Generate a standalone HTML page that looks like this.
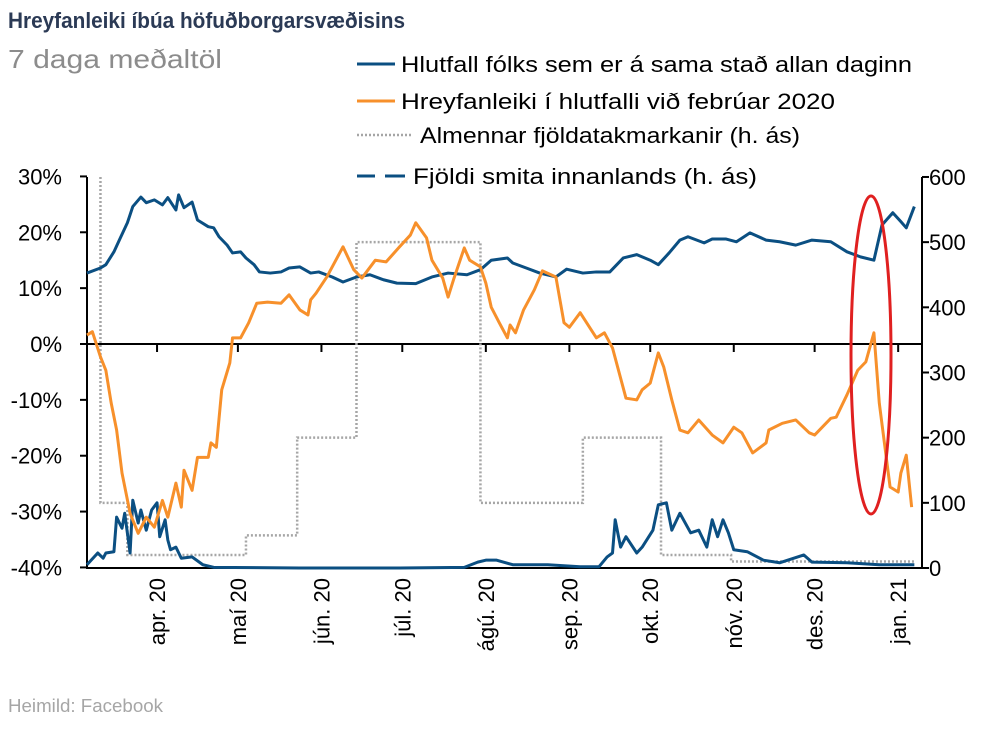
<!DOCTYPE html>
<html><head><meta charset="utf-8"><style>
body{margin:0;background:#fff;}
svg text{font-family:"Liberation Sans",sans-serif;}
</style></head><body>
<svg id="chart" width="1008" height="727" viewBox="0 0 1008 727" xmlns="http://www.w3.org/2000/svg">
<text x="8" y="28" font-size="22" font-weight="bold" fill="#2b3a55" textLength="397" lengthAdjust="spacingAndGlyphs">Hreyfanleiki íbúa höfuðborgarsvæðisins</text>
<text x="8" y="68" font-size="26" fill="#8c8c8c" textLength="214" lengthAdjust="spacingAndGlyphs">7 daga meðaltöl</text>
<g font-size="22" fill="#000">
<line x1="357" y1="64" x2="395" y2="64" stroke="#0b4f82" stroke-width="3"/>
<text x="401" y="72" textLength="511" lengthAdjust="spacingAndGlyphs">Hlutfall fólks sem er á sama stað allan daginn</text>
<line x1="357" y1="101" x2="395" y2="101" stroke="#f7902b" stroke-width="3"/>
<text x="401" y="109" textLength="434" lengthAdjust="spacingAndGlyphs">Hreyfanleiki í hlutfalli við febrúar 2020</text>
<line x1="357" y1="135" x2="412" y2="135" stroke="#a6a6a6" stroke-width="2.5" stroke-dasharray="2,2"/>
<text x="420" y="143" textLength="380" lengthAdjust="spacingAndGlyphs">Almennar fjöldatakmarkanir (h. ás)</text>
<line x1="357" y1="176" x2="375" y2="176" stroke="#0b4f82" stroke-width="3"/>
<line x1="385" y1="176" x2="405" y2="176" stroke="#0b4f82" stroke-width="3"/>
<text x="413" y="184" textLength="344" lengthAdjust="spacingAndGlyphs">Fjöldi smita innanlands (h. ás)</text>
</g>
<g id="axes"></g>
<g id="marks"></g>
<ellipse cx="871" cy="355" rx="20" ry="159" fill="none" stroke="#e02020" stroke-width="3"/>
<text x="8" y="712" font-size="18" fill="#a6a6a6" textLength="155" lengthAdjust="spacingAndGlyphs">Heimild: Facebook</text>
</svg>
<script>
const monthLabels=["apr. 20","maí 20","jún. 20","júl. 20","ágú. 20","sep. 20","okt. 20","nóv. 20","des. 20","jan. 21"];
const monthDays=[31,61,92,122,153,184,214,245,275,306];
const leftTicks=[30,20,10,0,-10,-20,-30,-40];
const rightTicks=[600,500,400,300,200,100,0];
const sameDays=[5,10,12,15,17,20,22,25,27,30,33,35,38,39,41,44,46,50,52,54,57,59,62,64,67,69,73,77,80,84,88,91,96,100,105,110,115,120,127,133,139,146,151,155,161,163,168,173,179,183,189,194,199,204,209,214,217,221,225,228,234,237,242,246,251,257,262,268,274,281,287,292,297,300,304,307,309,312];
const sameVals=[12.7,13.6,14.2,16.5,18.6,21.7,24.6,26.3,25.3,25.8,24.9,26.2,24,26.7,24.4,25.4,22.2,21,20.8,19.2,17.7,16.3,16.5,15.4,14.2,12.9,12.7,12.9,13.6,13.8,12.7,12.9,12,11.1,12,12.4,11.5,10.9,10.8,12,12.7,12.4,13.3,15,15.4,14.5,13.6,12.7,12,13.4,12.7,12.9,12.9,15.4,16,15,14.2,16.3,18.6,19.2,18.1,18.8,18.8,18.3,19.9,18.6,18.3,17.7,18.6,18.3,16.5,15.6,15,21.3,23.5,21.9,20.8,24.6];
const mobDays=[5,7,10,12,14,16,18,21,24,27,30,33,35,38,40,41,44,46,50,51,53,55,58,59,62,65,68,72,77,80,84,87,88,90,94,100,104,107,112,116,121,125,127,131,133,137,139,141,145,147,151,153,155,158,161,162,164,167,171,174,179,182,184,188,194,197,200,205,209,211,214,217,219,222,225,228,232,237,241,245,248,252,257,258,263,268,273,275,281,283,287,291,294,297,299,303,306,307,309,311];
const mobVals=[1.6,2.2,-2.3,-4.7,-10.6,-15.4,-23.1,-30.3,-33.9,-31,-32.8,-28,-31,-24.9,-29.2,-22.6,-26.2,-20.3,-20.3,-17.7,-18.5,-8.2,-3.4,1.1,1.1,3.8,7.3,7.5,7.3,8.8,6.1,5.2,7.9,9.1,12,17.4,13.3,11.8,15,14.7,17.4,19.5,21.7,19,15,11.8,8.4,11.5,17.2,15,13.8,10.9,6.6,3.8,1.1,3.4,2,6.1,9.7,13.1,12,3.8,3,5.6,1.1,2,-0.7,-9.7,-10,-8.2,-7,-1.6,-4.1,-10,-15.4,-15.9,-13.6,-16.3,-17.7,-14.9,-15.9,-19.5,-17.7,-15.4,-14.2,-13.6,-15.9,-16.3,-13.3,-13.1,-9.1,-4.7,-3.2,2,-10.6,-25.6,-26.5,-23.1,-19.9,-29.2];
const restrStart=600;
const restrDays=[10,20,64,83,105,151,189,218,244,312];
const restrVals=[100,20,50,200,500,100,200,20,10];
const caseDays=[5,9,11,12,15,16,18,19,21,22,24,25,27,29,31,32,34,35,36,38,40,44,48,52,84,121,145,150,153,157,163,176,188,195,198,200,201,203,205,209,211,215,217,220,222,225,229,232,235,237,239,241,243,245,250,256,262,271,274,287,299,312];
const caseVals=[5,23,15,23,25,78,61,84,23,104,69,89,58,89,100,48,74,43,28,32,15,17,5,1,0,0,1,9,12,12,5,5,2,2,17,23,74,32,48,23,32,58,97,100,58,84,54,58,32,74,48,74,54,28,25,12,8,20,9,8,5,5];

const NS="http://www.w3.org/2000/svg";
const X0=87,X1=922;
function xs(d){return 73.5+d*2.695;}
function yl(v){return 344-v*5.586;}
function yr(v){return 568-v*0.6517;}
const axes=document.getElementById('axes'),marks=document.getElementById('marks');
function mk(tag,attrs,parent){const e=document.createElementNS(NS,tag);for(const k in attrs)e.setAttribute(k,attrs[k]);parent.appendChild(e);return e;}

let e=mk('line',{x1:X0,y1:177,x2:X0,y2:569,stroke:'#000','stroke-width':2},axes);


e=mk('line',{x1:X1,y1:177,x2:X1,y2:569,stroke:'#000','stroke-width':2},axes);


e=mk('line',{x1:X0,y1:yl(0),x2:X1,y2:yl(0),stroke:'#000','stroke-width':2},axes);


e=mk('line',{x1:X0,y1:568,x2:X1,y2:568,stroke:'#000','stroke-width':2},axes);


leftTicks.forEach(v=>{
 const t=mk('line',{x1:X0-7,y1:yl(v),x2:X0,y2:yl(v),stroke:'#000','stroke-width':2},axes);
 
 
 const l=mk('text',{x:62,y:yl(v)+8,'font-size':22,'text-anchor':'end'},axes);l.textContent=v+'%';
 
 
});
rightTicks.forEach(v=>{
 const t=mk('line',{x1:X1,y1:yr(v),x2:X1+7,y2:yr(v),stroke:'#000','stroke-width':2},axes);
 
 
 const l=mk('text',{x:929,y:yr(v)+8,'font-size':22},axes);l.textContent=v;
 
 
});
monthDays.forEach((d,i)=>{
 const x=xs(d);
 const t=mk('line',{x1:x,y1:yl(0),x2:x,y2:yl(0)+8,stroke:'#000','stroke-width':2},axes);
 
 
 const l=mk('text',{x:0,y:0,'font-size':22,'text-anchor':'end',transform:`translate(${x+8},${578}) rotate(-90)`},axes);
 l.textContent=monthLabels[i];
 
 
});
let rp=[xs(restrDays[0])+','+yr(restrStart)];
for(let i=0;i<restrVals.length;i++){
 rp.push(xs(restrDays[i])+','+yr(restrVals[i]));
 rp.push(xs(restrDays[i+1])+','+yr(restrVals[i]));
}
let p=mk('polyline',{points:rp.join(' '),fill:'none',stroke:'#a6a6a6','stroke-width':2.5,'stroke-dasharray':'2,2'},marks);


p=mk('polyline',{points:caseDays.map((d,i)=>xs(d)+','+yr(caseVals[i])).join(' '),fill:'none',stroke:'#0b4f82','stroke-width':3,'stroke-linejoin':'round'},marks);


p=mk('polyline',{points:sameDays.map((d,i)=>xs(d)+','+yl(sameVals[i])).join(' '),fill:'none',stroke:'#0b4f82','stroke-width':3,'stroke-linejoin':'round'},marks);


p=mk('polyline',{points:mobDays.map((d,i)=>xs(d)+','+yl(mobVals[i])).join(' '),fill:'none',stroke:'#f7902b','stroke-width':3,'stroke-linejoin':'round'},marks);


</script>
</body></html>
